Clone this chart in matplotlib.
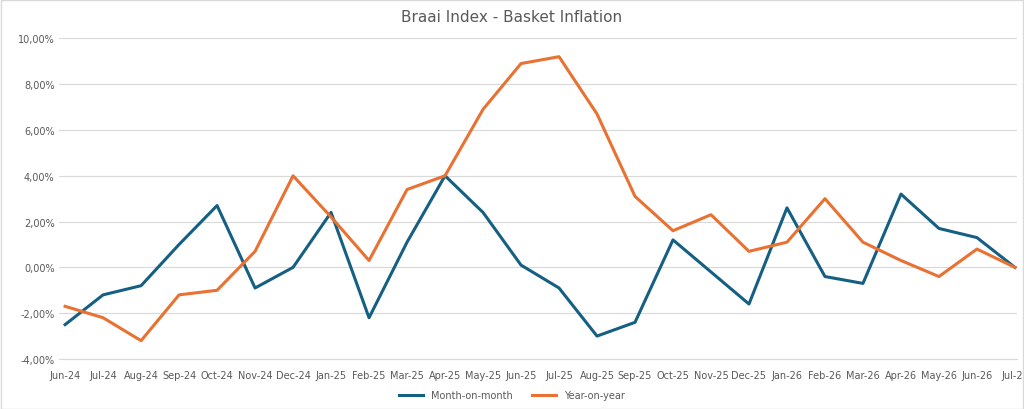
import matplotlib.pyplot as plt
from matplotlib.ticker import FuncFormatter, MultipleLocator

months = ["Jun-24", "Jul-24", "Aug-24", "Sep-24", "Oct-24", "Nov-24", "Dec-24",
          "Jan-25", "Feb-25", "Mar-25", "Apr-25", "May-25", "Jun-25", "Jul-25",
          "Aug-25", "Sep-25", "Oct-25", "Nov-25", "Dec-25", "Jan-26", "Feb-26",
          "Mar-26", "Apr-26", "May-26", "Jun-26", "Jul-26"]
mom = [-2.5, -1.2, -0.8, 1.0, 2.7, -0.9, 0.0, 2.4, -2.2, 1.1, 4.0, 2.4, 0.1, -0.9,
       -3.0, -2.4, 1.2, -0.2, -1.6, 2.6, -0.4, -0.7, 3.2, 1.7, 1.3, 0.0]
yoy = [-1.7, -2.2, -3.2, -1.2, -1.0, 0.7, 4.0, 2.2, 0.3, 3.4, 4.0, 6.9, 8.9, 9.2,
       6.7, 3.1, 1.6, 2.3, 0.7, 1.1, 3.0, 1.1, 0.3, -0.4, 0.8, 0.0]

fig = plt.figure(figsize=(10.24, 4.1), dpi=100)
ax = fig.add_axes([0.058, 0.122, 0.935, 0.782])
x = range(len(months))
ax.plot(x, mom, color="#156082", lw=2.2, label="Month-on-month")
ax.plot(x, yoy, color="#E97132", lw=2.2, label="Year-on-year")

ax.set_ylim(-4, 10)
ax.set_xlim(-0.15, len(months) - 0.95)
ax.yaxis.set_major_locator(MultipleLocator(2))
ax.yaxis.set_major_formatter(FuncFormatter(lambda v, p: f"{v:.2f}%".replace(".", ",")))
ax.set_xticks(list(x))
ax.set_xticklabels(months)
ax.tick_params(length=0, labelsize=7, colors="#595959")
ax.tick_params(axis="x", pad=8)
ax.grid(axis="y", color="#d9d9d9", lw=0.8)
for s in ["top", "right", "left"]:
    ax.spines[s].set_visible(False)
ax.spines["bottom"].set_color("#d9d9d9")
ax.set_axisbelow(True)

fig.suptitle("Braai Index - Basket Inflation", y=0.975, fontsize=11, color="#595959")
fig.legend(loc="lower center", ncol=2, frameon=False, fontsize=7,
           bbox_to_anchor=(0.5, 0.0), handlelength=2.5, labelcolor="#595959")
fig.patches.append(plt.Rectangle((0.001, 0.001), 0.998, 0.997, transform=fig.transFigure,
                                 fill=False, edgecolor="#d9d9d9", lw=1))
fig.savefig("out.png", dpi=100)
